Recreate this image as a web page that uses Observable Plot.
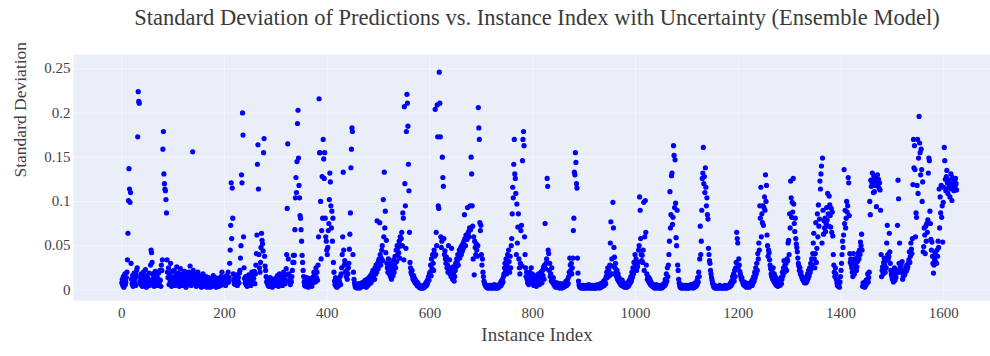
<!DOCTYPE html>
<html>
<head>
<meta charset="utf-8">
<script src="https://cdn.jsdelivr.net/npm/d3@7"></script>
<script src="https://cdn.jsdelivr.net/npm/@observablehq/plot@0.6"></script>
<style>
  html, body { margin: 0; padding: 0; background: #ffffff; }
  #title {
    width: 990px; box-sizing: border-box; height: 36px; line-height: 36px;
    padding-left: 84px; text-align: center; white-space: nowrap;
    font-family: "Liberation Serif", "Times New Roman", serif; font-size: 22.5px; color: #3a3a3a;
  }
</style>
</head>
<body>
<div id="title">Standard Deviation of Predictions vs. Instance Index with Uncertainty (Ensemble Model)</div>
<div id="chart"></div>
<script>
// Standard deviation values, in thousandths (value = n / 1000), by instance index blocks
const sd0000 = [8,12,5,15,3,10,18,6,9,14, 20,34,64,101,137,114,99,110,30,12, 7,16,4,11,19,8,13,5,17,22, 25,173,224,213,211,9,14,6,18,11, 4,12,20,8,15,6,23,10,3,16, 9,13,7,19,5,11,28,45,42,31, 18,8,14,4,12,21,7,10,16,5, 13,6,19,9,22,11,4,28,22,34, 159,179,131,120,114,112,102,87,34,20, 14,25,6,18,10,30,15,4,21,9];
const sd0100 = [14,7,22,11,5,17,9,26,13,6, 19,10,4,15,24,8,12,18,5,11, 16,7,21,9,13,3,18,10,6,14, 20,8,12,27,15,5,11,19,156,22, 9,14,6,17,10,4,13,8,20,7, 11,16,5,9,14,3,12,7,18,10, 6,13,4,9,15,8,3,11,6,14, 5,10,3,8,12,6,4,9,16,7, 11,5,14,8,3,10,6,13,7,4, 9,12,5,15,8,20,11,6,14,9];
const sd0200 = [7,13,5,10,16,8,12,20,9,14, 30,45,73,121,58,115,81,18,11,7, 14,6,12,9,17,5,10,14,8,19, 22,36,50,130,121,200,175,60,25,13, 8,15,6,11,4,12,9,17,7,10, 14,5,12,20,9,16,8,13,21,7, 18,28,41,62,142,164,114,40,25,20, 31,48,64,56,52,44,155,171,38,27, 22,15,9,13,6,11,4,10,7,14, 5,12,8,3,9,6,11,5,8,13];
const sd0300 = [7,12,5,16,9,4,11,18,6,13, 8,15,10,5,14,20,9,12,7,17, 24,40,92,165,35,18,10,14,6,12, 9,15,22,31,39,31,39,68,104,127, 110,145,188,203,149,118,104,84,81,68, 55,39,31,22,15,9,5,12,4,8, 14,6,10,3,7,11,5,9,13,6, 4,10,8,15,20,12,18,9,25,14, 20,11,28,60,216,155,155,100,35,67, 128,81,170,148,126,155,81,60,55,45];
const sd0400 = [40,48,67,75,102,132,122,95,70,89, 55,81,31,20,10,6,14,4,9,3, 12,7,5,11,8,15,6,18,25,40, 60,133,45,28,33,20,30,15,22,12, 18,25,30,46,63,87,138,159,183,179, 40,20,12,8,5,3,6,4,2,5, 3,7,4,2,6,3,5,8,4,6, 5,9,4,7,11,6,3,8,12,5, 9,14,7,10,16,8,13,19,11,22, 15,22,12,25,18,28,20,78,30,24];
const sd0500 = [33,35,76,40,28,36,45,50,33,102, 60,133,70,89,42,56,30,25,20,35, 28,18,24,15,30,12,22,26,16,34, 20,28,38,25,45,32,50,40,48,42, 55,36,60,50,58,65,50,87,81,34, 207,120,95,47,179,221,211,185,142,112, 65,31,25,20,18,22,15,12,16,10, 13,8,11,7,9,5,8,4,6,3, 5,2,4,3,2,4,3,2,5,3, 6,4,8,5,10,7,12,15,11,18];
const sd0600 = [20,28,16,35,24,40,30,22,45,38, 204,40,65,50,209,173,95,92,246,211, 173,60,48,55,150,127,117,58,40,44, 35,30,37,25,28,20,50,22,34,18, 25,15,47,20,12,26,18,10,15,22, 30,26,35,32,40,28,38,45,36,42, 48,40,50,44,52,47,55,85,58,50, 62,60,57,93,64,66,60,70,95,68, 150,131,95,72,35,60,17,55,48,40, 52,45,38,50,206,183,170,76,67,73];
const sd0700 = [40,28,35,20,15,10,8,6,5,4, 3,5,2,4,3,2,5,3,4,2, 3,5,2,4,3,6,2,3,4,2, 5,3,2,4,3,6,4,8,5,10, 7,12,9,15,18,25,30,22,35,18, 28,40,25,45,32,20,38,25,50,58, 86,116,104,142,170,131,126,109,40,97, 53,71,86,35,25,18,30,67,73,27, 146,170,179,163,60,40,25,15,20,12, 8,15,6,12,20,9,14,25,11,18];
const sd0800 = [7,13,5,10,16,6,11,4,9,14, 8,18,12,6,15,10,20,13,8,22, 16,26,12,28,75,24,30,35,126,117, 45,41,22,30,15,18,10,25,12,8, 14,6,9,4,7,3,5,8,4,6, 3,5,2,4,7,3,5,2,6,4, 3,5,8,4,6,10,5,8,12,7, 15,20,36,28,22,30,18,25,36,67, 81,133,130,155,144,120,115,36,19,10, 6,4,3,5,2,4,3,2,5,3];
const sd0900 = [2,4,3,2,5,3,2,4,3,6, 2,3,4,2,3,5,2,4,3,2, 3,5,2,4,2,3,6,4,3,5, 2,4,7,3,5,8,4,6,10,5, 9,12,7,15,20,14,25,18,22,16, 28,53,77,27,35,18,99,70,48,37, 25,30,20,15,22,12,18,10,14,8, 12,6,9,5,11,7,4,8,5,3, 6,4,7,3,5,8,4,10,6,12, 8,15,10,20,14,25,18,31,22,40];
const sd1000 = [28,35,22,30,26,31,45,50,105,90, 58,40,33,39,31,45,99,22,60,101, 65,28,18,12,15,10,14,8,12,6, 9,5,7,4,6,3,5,2,4,3, 6,2,4,3,5,2,3,4,2,5, 3,2,4,3,6,4,8,5,12,7, 18,10,25,15,28,40,55,111,70,85, 129,132,74,82,163,152,93,147,98,59, 50,90,28,22,12,8,5,3,6,2, 4,3,2,5,3,4,2,3,5,2];
const sd1100 = [3,4,2,5,3,2,4,3,6,4, 3,5,2,4,7,3,5,8,4,10, 6,14,9,20,15,35,72,40,55,90, 126,132,161,120,128,110,138,116,95,104, 85,80,47,40,33,30,22,18,14,11, 8,6,4,3,5,2,3,4,2,3, 2,4,3,2,5,3,2,3,4,2, 3,2,4,3,5,2,3,4,2,3, 5,4,3,6,4,8,5,10,7,15, 12,18,10,22,15,25,31,65,58,53];
const sd1200 = [26,35,28,21,18,15,12,14,10,8, 6,9,5,7,4,8,3,6,5,4, 7,3,5,4,8,6,10,5,12,8, 15,10,20,14,25,18,30,22,41,35, 53,45,95,81,116,60,86,76,95,73, 93,105,90,130,100,118,62,50,38,45, 42,34,28,24,18,15,20,12,25,10, 18,8,15,6,12,5,10,4,8,6, 11,5,9,14,7,12,20,16,25,33, 20,28,24,30,22,35,33,53,56,40];
const sd1300 = [86,70,123,104,82,99,88,126,97,75, 66,81,58,52,48,43,36,30,27,22, 25,18,20,16,14,12,13,10,11,8, 9,12,8,15,10,18,13,22,16,25, 20,30,24,35,28,41,53,64,35,25, 41,76,31,47,86,60,96,72,80,123, 114,131,140,53,149,90,63,78,70,81, 66,75,93,79,109,86,72,106,96,84, 71,92,65,88,61,40,28,20,15,25, 18,12,8,5,10,4,7,3,9,15];
const sd1400 = [22,30,40,55,48,62,136,75,90,70, 81,100,88,95,127,121,84,41,31,35, 28,25,20,15,41,30,18,35,25,31, 22,26,32,38,42,35,45,40,54,50, 63,45,4,8,5,6,3,9,5,11, 7,12,18,9,14,20,100,85,124,117, 122,132,120,110,128,111,125,118,126,94, 122,130,119,125,115,121,113,90,40,15, 22,26,18,31,36,28,20,33,25,53, 73,40,35,38,64,43,30,22,18,15];
const sd1500 = [12,20,9,16,25,11,18,14,22,19, 73,124,103,30,53,25,20,28,22,32, 12,15,18,20,17,22,25,21,28,24, 26,30,34,43,31,38,53,46,41,58, 119,170,138,163,136,60,87,82,118,170, 109,149,196,166,155,130,159,136,100,122, 43,49,70,62,41,72,55,75,65,79, 132,149,146,89,75,57,45,54,38,30, 19,28,35,42,32,39,30,45,38,55, 48,114,70,105,87,118,82,95,54,99];
const sd1600 = [116,161,146,125,112,128,135,121,109,115, 124,118,105,120,131,114,101,127,119,125, 112,123,117,126,120,113];

const xTicks = [0, 200, 400, 600, 800, 1000, 1200, 1400, 1600];
const yTicks = [0, 0.05, 0.1, 0.15, 0.2, 0.25];
const yTickLabels = ["0", "0.05", "0.1", "0.15", "0.2", "0.25"];
const xTitle = "Instance Index";
const yTitle = "Standard Deviation";

const sdMilli = [].concat(sd0000, sd0100, sd0200, sd0300, sd0400, sd0500, sd0600, sd0700,
  sd0800, sd0900, sd1000, sd1100, sd1200, sd1300, sd1400, sd1500, sd1600);
const points = sdMilli.map((v, i) => ({index: i, sd: v / 1000}));

const serif = "'Liberation Serif', 'Times New Roman', serif";

const chart = Plot.plot({
  width: 990,
  height: 320,
  marginTop: 18,
  marginBottom: 56,
  marginLeft: 73,
  marginRight: 0,
  style: {fontFamily: serif, fontSize: "15px", color: "#444", background: "#ffffff", overflow: "visible"},
  x: {domain: [-94, 1691], label: null},
  y: {domain: [-0.012, 0.266], label: null},
  marks: [
    Plot.frame({fill: "#e9eef8", stroke: "none"}),
    Plot.gridY(yTicks, {stroke: "#ffffff", strokeOpacity: 0.45, strokeWidth: 1}),
    Plot.gridX(xTicks, {stroke: "#ffffff", strokeOpacity: 0.45, strokeWidth: 1}),
    Plot.dot(points, {x: "index", y: "sd", r: 2.6, fill: "#0000ff", stroke: "none"}),
    Plot.axisX(xTicks, {tickSize: 0, tickPadding: 7, label: null, tickFormat: d => String(d), fontSize: 15}),
    Plot.axisY(yTicks, {tickSize: 0, tickPadding: 3, label: null, tickFormat: (d, i) => yTickLabels[i], fontSize: 15}),
    Plot.text([xTitle], {text: d => d, frameAnchor: "bottom", dy: 40, dx: 5, fontSize: 19, fill: "#444"}),
    Plot.text([yTitle], {text: d => d, frameAnchor: "left", dx: -53, rotate: -90, fontSize: 17.5, fill: "#444"})
  ]
});
document.getElementById("chart").appendChild(chart);
</script>
</body>
</html>
